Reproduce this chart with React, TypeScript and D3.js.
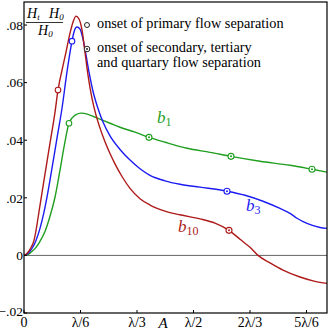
import React from 'react';
import * as d3 from 'd3';

// x in units of λ, y = (Ht - H0)/H0
const b10 = [
  [0, 0], [0.0088, 0.0007], [0.0177, 0.0021], [0.0295, 0.0052], [0.0472, 0.0174],
  [0.0619, 0.0282], [0.0767, 0.039], [0.0914, 0.0497], [0.1003, 0.0574], [0.1121, 0.0643],
  [0.1239, 0.0706], [0.1357, 0.0772], [0.1445, 0.081], [0.1534, 0.0831], [0.1622, 0.0821],
  [0.1711, 0.0783], [0.1799, 0.0706], [0.1888, 0.0626], [0.2006, 0.0545], [0.2124, 0.0487],
  [0.2242, 0.0442], [0.2389, 0.0395], [0.2537, 0.0354], [0.2684, 0.0318], [0.2891, 0.0274],
  [0.3127, 0.0233], [0.3422, 0.0197], [0.3717, 0.0175], [0.4159, 0.0154], [0.4602, 0.0141],
  [0.5192, 0.0127], [0.5634, 0.0112], [0.6047, 0.0087], [0.6372, 0.0056], [0.6667, 0.0028],
  [0.6903, 0], [0.7257, -0.0026], [0.764, -0.0051], [0.8142, -0.0075], [0.8584, -0.009],
  [0.8938, -0.0097],
];

const b3 = [
  [0, 0], [0.0118, 0.0007], [0.0236, 0.0024], [0.0354, 0.0052], [0.0472, 0.0094],
  [0.059, 0.015], [0.0678, 0.0202], [0.0826, 0.0303], [0.0973, 0.0407], [0.1121, 0.0511],
  [0.1268, 0.0637], [0.1416, 0.0744], [0.1475, 0.0776], [0.1563, 0.0793], [0.1652, 0.0786],
  [0.174, 0.0751], [0.1829, 0.0696], [0.1917, 0.0637], [0.2035, 0.057], [0.2183, 0.051],
  [0.233, 0.0463], [0.2537, 0.0415], [0.2832, 0.0368], [0.3127, 0.0331], [0.3422, 0.0301],
  [0.3717, 0.0278], [0.4159, 0.0259], [0.4602, 0.0247], [0.5192, 0.0237], [0.5988, 0.0223],
  [0.6519, 0.0209], [0.705, 0.0188], [0.7552, 0.0163], [0.7847, 0.0146], [0.8053, 0.0129],
  [0.8348, 0.0111], [0.8732, 0.0097], [0.8938, 0.0094],
];

const b1 = [
  [0, 0], [0.0118, 0.0003], [0.0236, 0.0014], [0.0354, 0.0028], [0.0472, 0.0049],
  [0.0619, 0.0083], [0.0767, 0.0136], [0.0914, 0.0202], [0.1062, 0.0296], [0.118, 0.0376],
  [0.1327, 0.0459], [0.1416, 0.0477], [0.1534, 0.0489], [0.1681, 0.0494], [0.1888, 0.049],
  [0.2094, 0.048], [0.2537, 0.0459], [0.2832, 0.0445], [0.3274, 0.0428], [0.3687, 0.041],
  [0.4159, 0.0393], [0.4808, 0.0372], [0.5487, 0.0358], [0.6106, 0.0344], [0.6962, 0.0327],
  [0.7847, 0.0313], [0.8496, 0.0299], [0.8938, 0.0289],
];

// onset of primary flow separation (open circles)
const primary = [
  { s: 'b10', x: 0.1003, y: 0.0574 },
  { s: 'b3', x: 0.1416, y: 0.0744 },
  { s: 'b1', x: 0.1327, y: 0.0459 },
];
// onset of secondary, tertiary, quartary separation (dotted circles)
const secondary = [
  { s: 'b10', x: 0.6047, y: 0.0087 },
  { s: 'b3', x: 0.5988, y: 0.0223 },
  { s: 'b1', x: 0.3687, y: 0.041 },
  { s: 'b1', x: 0.6106, y: 0.0344 },
  { s: 'b1', x: 0.8496, y: 0.0299 },
];

const xTicks = [0, 1 / 6, 1 / 3, 1 / 2, 2 / 3, 5 / 6];
const xTickLabels = ['0', 'λ/6', 'λ/3', 'λ/2', '2λ/3', '5λ/6'];
const yTicks = [0.08, 0.06, 0.04, 0.02, 0, -0.02];
const yTickLabels = ['.08', '.06', '.04', '.02', '0', '\u2212.02'];

const colors: Record<string, string> = { b10: '#ae1a1a', b3: '#1c1cf2', b1: '#1f9e1f' };

const W = 331;
const H = 331;
const margin = { top: 2, right: 4, bottom: 18, left: 24 };
const font = 'Liberation Serif, DejaVu Serif, serif';

export default function App() {
  const x = d3.scaleLinear().domain([0, 0.8938]).range([margin.left, W - margin.right]);
  const y = d3.scaleLinear().domain([-0.02, 0.088]).range([H - margin.bottom, margin.top]);

  const line = d3
    .line<number[]>()
    .x(d => x(d[0]))
    .y(d => y(d[1]))
    .curve(d3.curveMonotoneX);

  const series = [
    { key: 'b1', data: b1 },
    { key: 'b3', data: b3 },
    { key: 'b10', data: b10 },
  ];

  const x0 = margin.left;
  const x1 = W - margin.right;
  const y0 = margin.top;
  const y1 = H - margin.bottom;

  return (
    <svg
      width={W}
      height={H}
      fontFamily={font}
      style={{ position: 'absolute', left: 0, top: 0, background: '#fff' }}
    >
      <defs>
        <clipPath id="plot">
          <rect x={x0} y={y0} width={x1 - x0} height={y1 - y0} />
        </clipPath>
      </defs>

      {/* zero line */}
      <line x1={x0} x2={x1} y1={y(0)} y2={y(0)} stroke="#666" strokeWidth={1} />

      {/* curves */}
      <g clipPath="url(#plot)">
        {series.map(s => (
          <path key={s.key} d={line(s.data) || ''} fill="none" stroke={colors[s.key]} strokeWidth={1.4} />
        ))}
      </g>

      {/* markers */}
      {primary.map((m, i) => (
        <circle key={`p${i}`} cx={x(m.x)} cy={y(m.y)} r={2.8} fill="#fff" stroke={colors[m.s]} strokeWidth={1.1} />
      ))}
      {secondary.map((m, i) => (
        <g key={`s${i}`}>
          <circle cx={x(m.x)} cy={y(m.y)} r={3} fill="#fff" stroke={colors[m.s]} strokeWidth={1.1} />
          <circle cx={x(m.x)} cy={y(m.y)} r={1} fill={colors[m.s]} />
        </g>
      ))}

      {/* frame */}
      <rect x={x0} y={y0} width={x1 - x0} height={y1 - y0} fill="none" stroke="#000" strokeWidth={1.2} />

      {/* ticks */}
      {yTicks.map((t, i) => (
        <g key={`y${i}`}>
          <line x1={x0} x2={x0 + 3} y1={y(t)} y2={y(t)} stroke="#000" />
          <text x={x0 - 1} y={y(t) - (t < 0 ? 2 : 0)} dy="0.35em" textAnchor="end" fontSize={13.5}>
            {yTickLabels[i]}
          </text>
        </g>
      ))}
      {xTicks.map((t, i) => (
        <g key={`x${i}`}>
          <line x1={x(t)} x2={x(t)} y1={y1} y2={y1 - 3} stroke="#000" />
          <text x={x(t)} y={327} textAnchor="middle" fontSize={14}>
            {xTickLabels[i]}
          </text>
        </g>
      ))}
      <text x={163} y={328} textAnchor="middle" fontSize={15} fontStyle="italic">A</text>

      {/* y axis label: (Ht - H0)/H0 */}
      <g fontStyle="italic" fontSize={14}>
        <text x={27} y={18}>
          H<tspan fontSize={9} dy={2}>t</tspan>
        </text>
        <text x={49} y={18}>
          H<tspan fontSize={9} dy={2}>0</tspan>
        </text>
        <line x1={26} x2={63} y1={22.5} y2={22.5} stroke="#000" strokeWidth={0.8} />
        <text x={38} y={35}>
          H<tspan fontSize={9} dy={2}>0</tspan>
        </text>
      </g>

      {/* legend */}
      <circle cx={87} cy={25} r={2.5} fill="#fff" stroke="#222" strokeWidth={1} />
      <text x={97} y={28} fontSize={14.3}>onset of primary flow separation</text>
      <circle cx={87} cy={49} r={2.8} fill="#fff" stroke="#222" strokeWidth={1} />
      <circle cx={87} cy={49} r={1} fill="#222" />
      <text x={97} y={52} fontSize={14.3}>onset of secondary, tertiary</text>
      <text x={97} y={67} fontSize={14.3}>and quartary flow separation</text>

      {/* series labels */}
      <text x={157} y={123} fontSize={17} fontStyle="italic" fill={colors.b1}>
        b<tspan fontSize={12} fontStyle="normal" dy={3}>1</tspan>
      </text>
      <text x={246} y={211} fontSize={17} fontStyle="italic" fill={colors.b3}>
        b<tspan fontSize={12} fontStyle="normal" dy={3}>3</tspan>
      </text>
      <text x={178} y={232} fontSize={17} fontStyle="italic" fill={colors.b10}>
        b<tspan fontSize={12} fontStyle="normal" dy={3}>10</tspan>
      </text>
    </svg>
  );
}
